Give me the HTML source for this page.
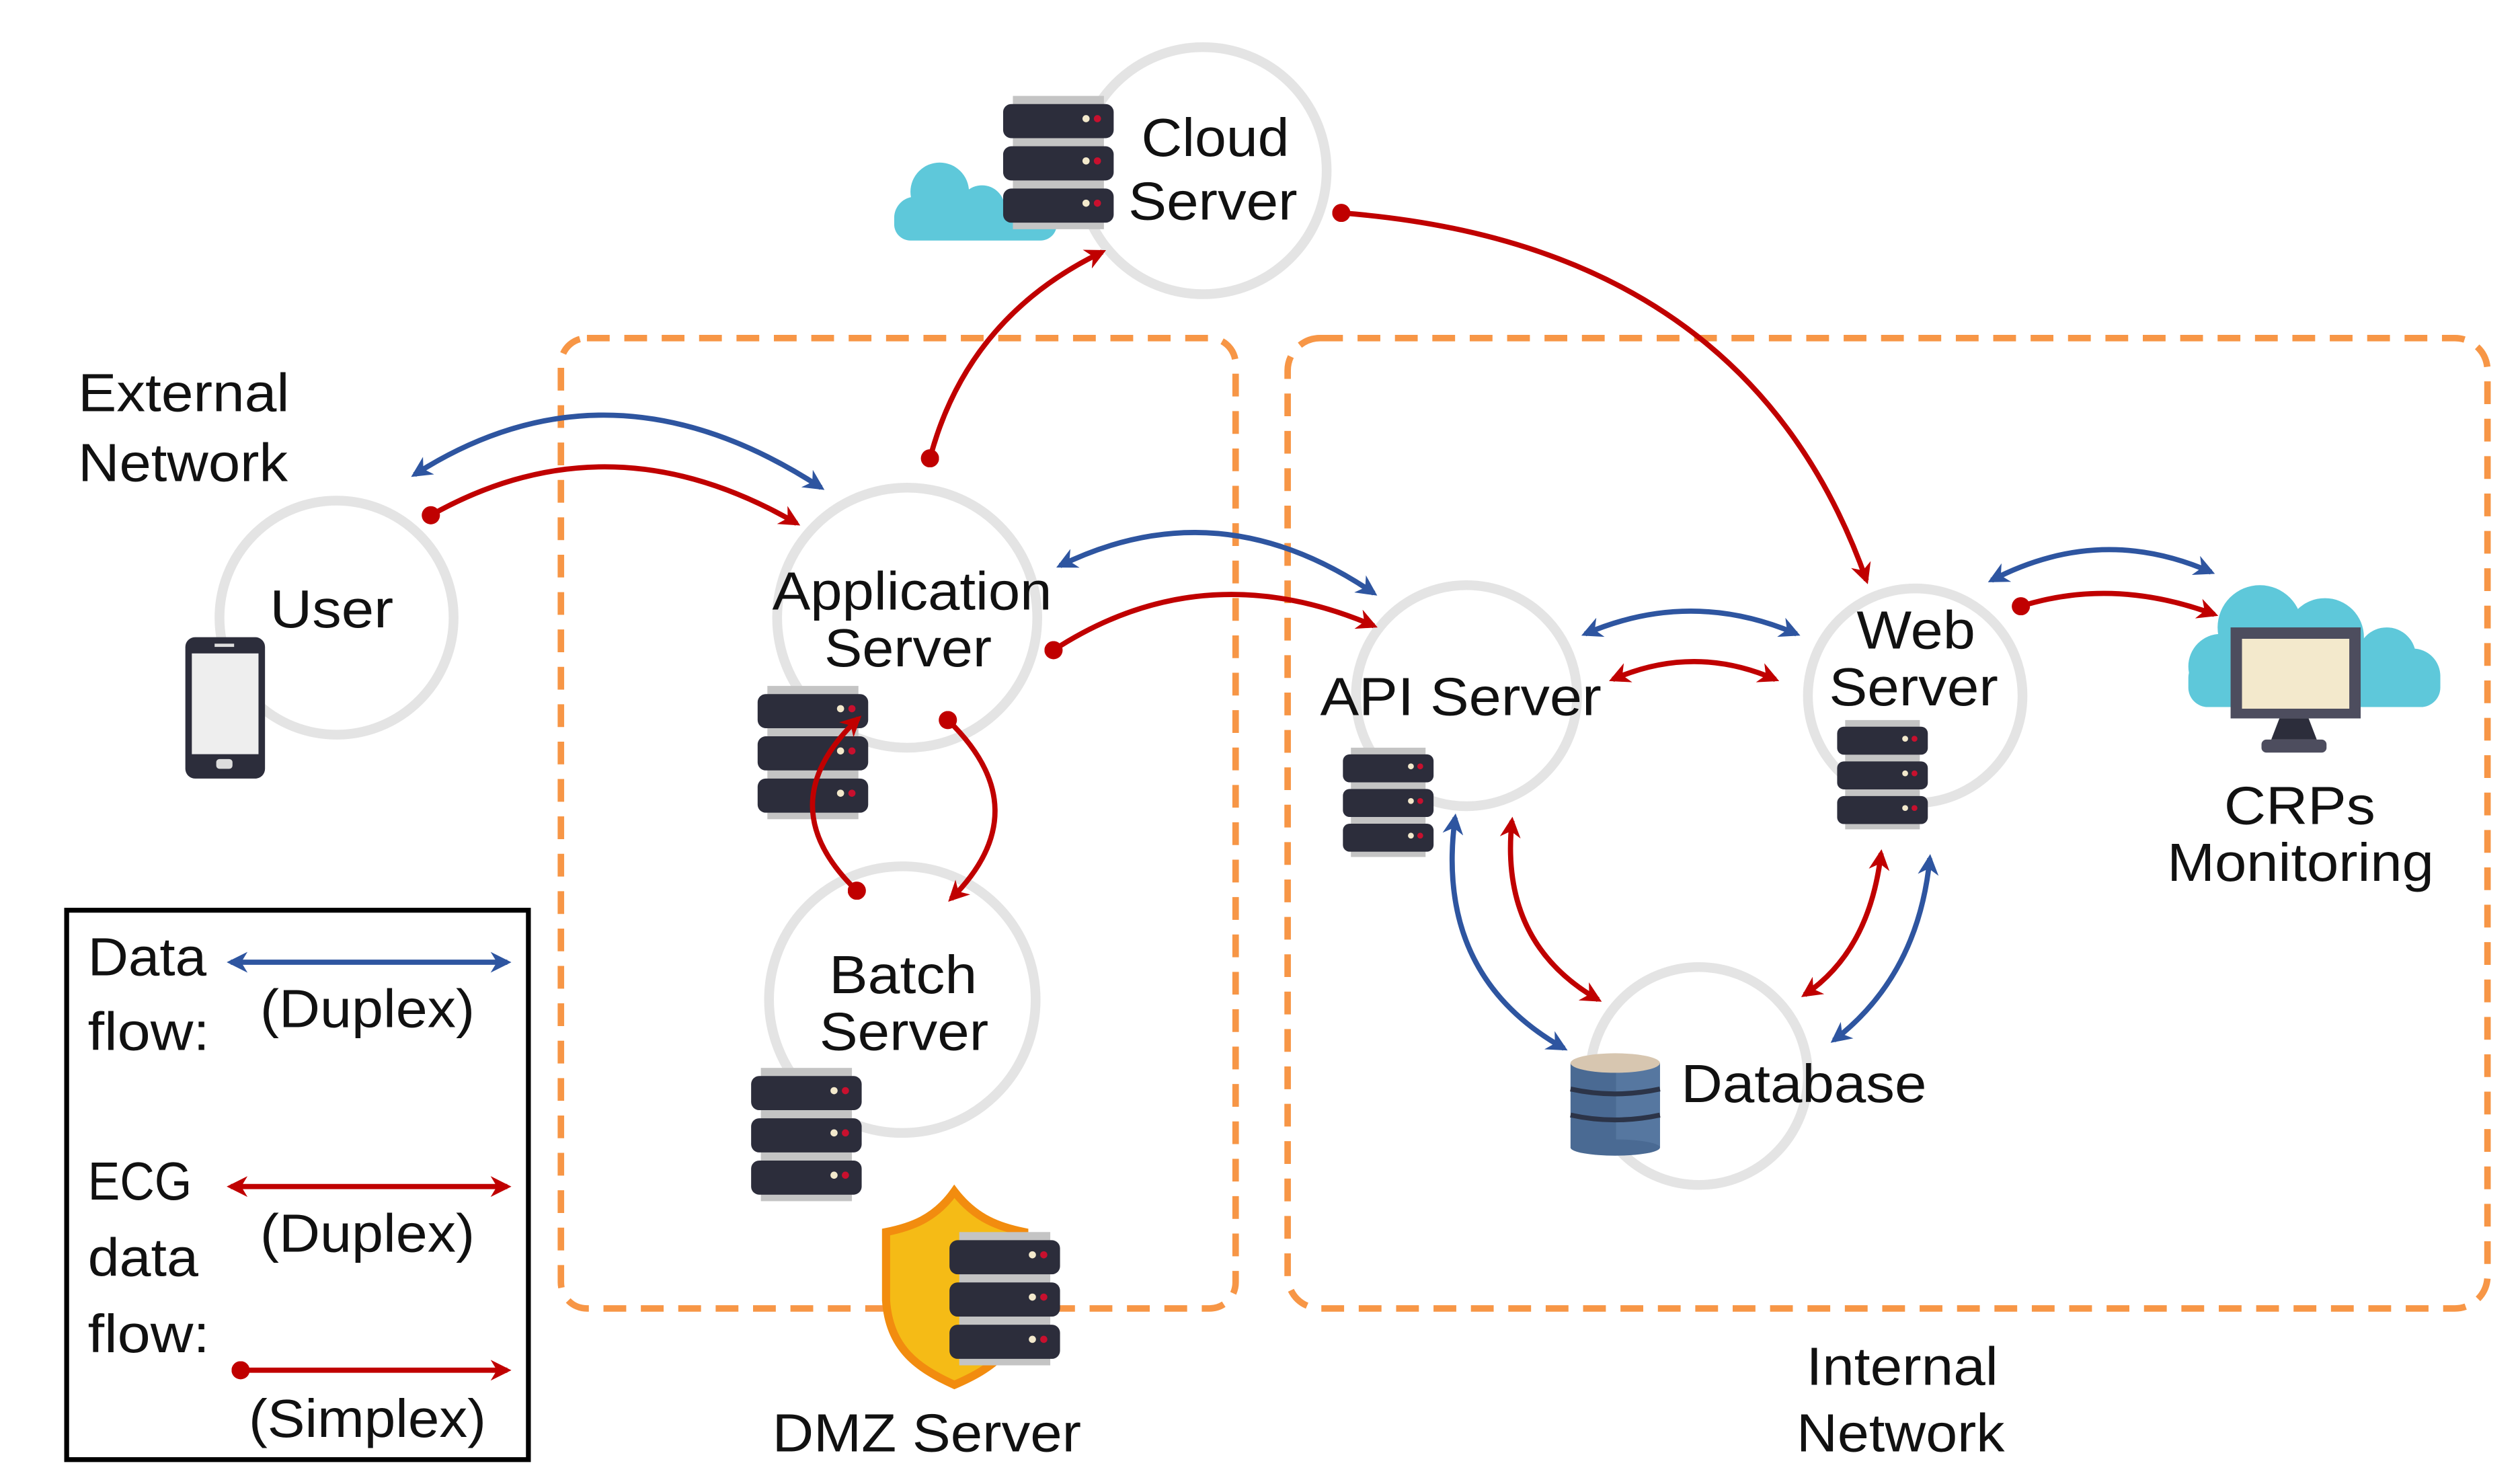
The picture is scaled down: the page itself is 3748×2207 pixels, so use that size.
<!DOCTYPE html>
<html><head><meta charset="utf-8"><style>
html,body{margin:0;padding:0;background:#fff;}
svg{display:block;}
text{font-family:"Liberation Sans",sans-serif;fill:#111;}
</style></head><body>
<svg width="3748" height="2207" viewBox="0 0 1550 913" preserveAspectRatio="none" xmlns="http://www.w3.org/2000/svg">
<defs>
<marker id="bh" viewBox="0 0 10 10" refX="8" refY="5" markerWidth="4" markerHeight="4" orient="auto-start-reverse"><path d="M0,0 L10,5 L0,10 L3,5 Z" fill="#2e55a0"/></marker>
<marker id="rh" viewBox="0 0 10 10" refX="8" refY="5" markerWidth="4" markerHeight="4" orient="auto-start-reverse"><path d="M0,0 L10,5 L0,10 L3,5 Z" fill="#c00000"/></marker>
<marker id="rd" viewBox="0 0 10 10" refX="5" refY="5" markerWidth="3.5" markerHeight="3.5"><circle cx="5" cy="5" r="5" fill="#c00000"/></marker>
<g id="srv">
<rect x="6" y="0" width="56" height="82" fill="#c4c4c4"/>
<rect x="0" y="5" width="68" height="21" rx="5" fill="#2c2d3b"/>
<rect x="0" y="31" width="68" height="21" rx="5" fill="#2c2d3b"/>
<rect x="0" y="57" width="68" height="21" rx="5" fill="#2c2d3b"/>
<circle cx="51" cy="14" r="2.2" fill="#f3e9cc"/><circle cx="58" cy="14" r="2.2" fill="#c8102e"/>
<circle cx="51" cy="40" r="2.2" fill="#f3e9cc"/><circle cx="58" cy="40" r="2.2" fill="#c8102e"/>
<circle cx="51" cy="66" r="2.2" fill="#f3e9cc"/><circle cx="58" cy="66" r="2.2" fill="#c8102e"/>
</g>
</defs>

<rect x="345" y="208" width="415" height="597" rx="16" fill="none" stroke="#f79646" stroke-width="4" stroke-dasharray="14 9"/>
<rect x="792" y="208" width="738" height="597" rx="20" fill="none" stroke="#f79646" stroke-width="4" stroke-dasharray="14 9"/>

<g fill="none" stroke="#e4e4e4" stroke-width="6">
<circle cx="740" cy="105" r="76"/>
<circle cx="207" cy="380" r="72"/>
<circle cx="558" cy="380" r="80"/>
<circle cx="555" cy="615" r="82"/>
<circle cx="902" cy="428" r="68"/>
<circle cx="1178" cy="428" r="66"/>
<circle cx="1045" cy="662" r="67"/>
</g>

<g fill="#5ec8da">
<circle cx="578" cy="118" r="18"/><circle cx="604" cy="128" r="14"/><circle cx="563" cy="134" r="13"/>
<rect x="550" y="125" width="100" height="23" rx="10"/>
</g>
<use href="#srv" x="617" y="59"/>

<g fill="#5ec8da">
<circle cx="1390" cy="386" r="26"/><circle cx="1430" cy="392" r="24"/><circle cx="1468" cy="404" r="18"/>
<circle cx="1366" cy="410" r="20"/><circle cx="1484" cy="416" r="17"/>
<rect x="1346" y="405" width="155" height="30" rx="12"/>
</g>
<rect x="1372" y="386" width="80" height="56" fill="#4d4d5e"/>
<rect x="1379" y="393" width="66" height="43" fill="#f3e9cc"/>
<path d="M1402,442 L1420,442 L1425,455 L1397,455 Z" fill="#2c2d3b"/>
<rect x="1391" y="455" width="40" height="8" rx="3" fill="#4d4d5e"/>

<rect x="114" y="392" width="49" height="87" rx="6" fill="#2c2d3b"/>
<rect x="118" y="402" width="41" height="62" fill="#eeeeee"/>
<rect x="133" y="467" width="10" height="6" rx="2" fill="#ddd"/>
<rect x="132" y="396" width="12" height="2" fill="#ddd"/>

<use href="#srv" x="466" y="422"/>
<use href="#srv" x="462" y="657"/>
<g transform="translate(826,460) scale(0.82)"><use href="#srv"/></g>
<g transform="translate(1130,443) scale(0.82)"><use href="#srv"/></g>

<path d="M587,733 C600,750 615,755 630,758 L630,800 C628,830 610,842 587,852 C565,842 547,830 545,800 L545,758 C560,755 575,750 587,733 Z" fill="#f5bb16" stroke="#f28c0f" stroke-width="5"/>
<use href="#srv" x="584" y="758"/>

<g>
<rect x="966" y="654" width="55" height="52" fill="#4a6a93"/>
<rect x="994" y="654" width="27" height="52" fill="#5677a0"/>
<ellipse cx="993.5" cy="654" rx="27.5" ry="6" fill="#d7c6b0"/>
<ellipse cx="993.5" cy="706" rx="27.5" ry="5" fill="#4a6a93"/>
<path d="M966,670 Q993,676 1021,670" stroke="#2c3448" stroke-width="3" fill="none"/>
<path d="M966,686 Q993,692 1021,686" stroke="#2c3448" stroke-width="3" fill="none"/>
</g>

<g fill="none" stroke-width="3.2">
<path d="M255,292 Q375,215 505,300" stroke="#2e55a0" marker-start="url(#bh)" marker-end="url(#bh)"/>
<path d="M265,317 Q375,255 490,322" stroke="#c00000" marker-start="url(#rd)" marker-end="url(#rh)"/>
<path d="M572,282 Q595,195 678,155" stroke="#c00000" marker-start="url(#rd)" marker-end="url(#rh)"/>
<path d="M825,131 Q1075,150 1148,357" stroke="#c00000" marker-start="url(#rd)" marker-end="url(#rh)"/>
<path d="M652,348 Q750,300 845,365" stroke="#2e55a0" marker-start="url(#bh)" marker-end="url(#bh)"/>
<path d="M648,400 Q740,340 845,385" stroke="#c00000" marker-start="url(#rd)" marker-end="url(#rh)"/>
<path d="M975,390 Q1040,362 1105,390" stroke="#2e55a0" marker-start="url(#bh)" marker-end="url(#bh)"/>
<path d="M992,418 Q1042,396 1092,418" stroke="#c00000" marker-start="url(#rh)" marker-end="url(#rh)"/>
<path d="M1225,357 Q1292,322 1360,352" stroke="#2e55a0" marker-start="url(#bh)" marker-end="url(#bh)"/>
<path d="M1243,373 Q1300,355 1362,378" stroke="#c00000" marker-start="url(#rd)" marker-end="url(#rh)"/>
<path d="M583,443 Q640,498 585,553" stroke="#c00000" marker-start="url(#rd)" marker-end="url(#rh)"/>
<path d="M527,548 Q472,495 528,442" stroke="#c00000" marker-start="url(#rd)" marker-end="url(#rh)"/>
<path d="M895,503 Q882,600 962,645" stroke="#2e55a0" marker-start="url(#bh)" marker-end="url(#bh)"/>
<path d="M930,505 Q922,580 983,615" stroke="#c00000" marker-start="url(#rh)" marker-end="url(#rh)"/>
<path d="M1157,525 Q1150,585 1110,612" stroke="#c00000" marker-start="url(#rh)" marker-end="url(#rh)"/>
<path d="M1187,528 Q1180,600 1128,640" stroke="#2e55a0" marker-start="url(#bh)" marker-end="url(#bh)"/>
</g>

<g font-size="33" lengthAdjust="spacingAndGlyphs">
<text x="702" y="96" textLength="91" lengthAdjust="spacingAndGlyphs">Cloud</text>
<text x="694" y="135" textLength="104" lengthAdjust="spacingAndGlyphs">Server</text>
<text x="48" y="253" textLength="130" lengthAdjust="spacingAndGlyphs">External</text>
<text x="48" y="296" textLength="129" lengthAdjust="spacingAndGlyphs">Network</text>
<text x="166" y="386" textLength="76" lengthAdjust="spacingAndGlyphs">User</text>
<text x="475" y="375" textLength="172" lengthAdjust="spacingAndGlyphs">Application</text>
<text x="507" y="410" textLength="103" lengthAdjust="spacingAndGlyphs">Server</text>
<text x="510" y="611" textLength="91" lengthAdjust="spacingAndGlyphs">Batch</text>
<text x="504" y="646" textLength="104" lengthAdjust="spacingAndGlyphs">Server</text>
<text x="812" y="440" textLength="173" lengthAdjust="spacingAndGlyphs">API Server</text>
<text x="1142" y="399" textLength="73" lengthAdjust="spacingAndGlyphs">Web</text>
<text x="1125" y="434" textLength="104" lengthAdjust="spacingAndGlyphs">Server</text>
<text x="1368" y="507" textLength="93" lengthAdjust="spacingAndGlyphs">CRPs</text>
<text x="1333" y="542" textLength="164" lengthAdjust="spacingAndGlyphs">Monitoring</text>
<text x="1034" y="678" textLength="151" lengthAdjust="spacingAndGlyphs">Database</text>
<text x="475" y="893" textLength="190" lengthAdjust="spacingAndGlyphs">DMZ Server</text>
<text x="1111" y="852" textLength="118" lengthAdjust="spacingAndGlyphs">Internal</text>
<text x="1105" y="893" textLength="128" lengthAdjust="spacingAndGlyphs">Network</text>
</g>

<rect x="41" y="560" width="284" height="338" fill="none" stroke="#000" stroke-width="3"/>
<g font-size="33">
<text x="54" y="600" textLength="73" lengthAdjust="spacingAndGlyphs">Data</text>
<text x="54" y="646" textLength="75" lengthAdjust="spacingAndGlyphs">flow:</text>
<text x="160" y="632" textLength="132" lengthAdjust="spacingAndGlyphs">(Duplex)</text>
<text x="54" y="738" textLength="64" lengthAdjust="spacingAndGlyphs">ECG</text>
<text x="54" y="785" textLength="68" lengthAdjust="spacingAndGlyphs">data</text>
<text x="54" y="832" textLength="75" lengthAdjust="spacingAndGlyphs">flow:</text>
<text x="160" y="770" textLength="132" lengthAdjust="spacingAndGlyphs">(Duplex)</text>
<text x="153" y="884" textLength="146" lengthAdjust="spacingAndGlyphs">(Simplex)</text>
</g>
<g fill="none" stroke-width="3.2">
<path d="M142,592 L312,592" stroke="#2e55a0" marker-start="url(#bh)" marker-end="url(#bh)"/>
<path d="M142,730 L312,730" stroke="#c00000" marker-start="url(#rh)" marker-end="url(#rh)"/>
<path d="M148,843 L312,843" stroke="#c00000" marker-start="url(#rd)" marker-end="url(#rh)"/>
</g>
</svg>
</body></html>
